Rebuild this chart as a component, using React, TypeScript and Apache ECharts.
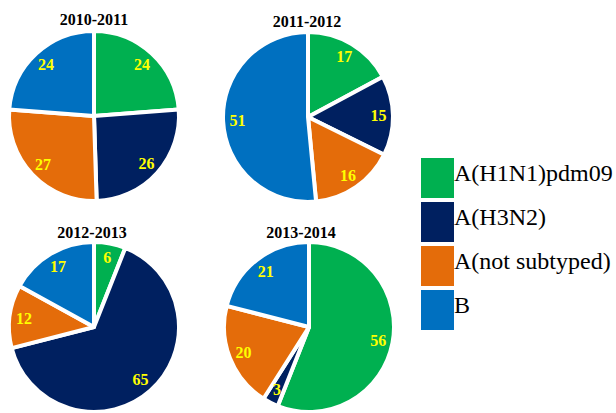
import React, { useEffect, useRef } from "react";
import * as echarts from "echarts";

const categories = ["A(H1N1)pdm09", "A(H3N2)", "A(not subtyped)", "B"];
const colors = ["#00B050", "#002060", "#E46C0A", "#0070C0"];
const seasons = ["2010-2011", "2011-2012", "2012-2013", "2013-2014"];
const values2010 = [24, 26, 27, 24];
const values2011 = [17, 15, 16, 51];
const values2012 = [6, 65, 12, 17];
const values2013 = [56, 3, 20, 21];
const allValues = [values2010, values2011, values2012, values2013];

const SERIF = "Liberation Serif";

const centers: [number, number][] = [
  [94, 116],
  [308, 117],
  [94, 327],
  [309, 327],
];
const titlePos: [number, number][] = [
  [94, 11],
  [307, 13],
  [92, 224],
  [301, 224],
];

export default function App() {
  const ref = useRef<HTMLDivElement>(null);
  useEffect(() => {
    if (!ref.current) return;
    const chart = echarts.init(ref.current, null, { renderer: "svg" });
    const series: any[] = [];
    allValues.forEach((vals, i) => {
      const data = vals.map((v, k) => ({
        name: categories[k],
        value: v,
        itemStyle: { color: colors[k] },
      }));
      series.push({
        type: "pie",
        center: centers[i],
        radius: [0, 85],
        startAngle: 90,
        clockwise: true,
        label: { show: false },
        labelLine: { show: false },
        itemStyle: { borderColor: "#ffffff", borderWidth: 4 },
        emphasis: { disabled: true },
        data,
      });
      series.push({
        type: "pie",
        center: centers[i],
        radius: [50, 85],
        startAngle: 90,
        clockwise: true,
        silent: true,
        legendHoverLink: false,
        itemStyle: { color: "transparent", borderWidth: 0 },
        label: {
          show: true,
          position: "inside",
          formatter: "{c}",
          color: "#FFFF00",
          fontFamily: SERIF,
          fontWeight: "bold",
          fontSize: 16,
        },
        labelLine: { show: false },
        emphasis: { disabled: true },
        data: vals.map((v, k) => ({ name: categories[k] + " ", value: v })),
      });
    });
    chart.setOption({
      animation: false,
      textStyle: { fontFamily: SERIF },
      title: seasons.map((s, i) => ({
        text: s,
        left: titlePos[i][0],
        top: titlePos[i][1],
        textAlign: "center",
        padding: 0,
        textStyle: {
          fontFamily: SERIF,
          fontWeight: "bold",
          fontSize: 16,
          color: "#000",
        },
      })),
      legend: {
        orient: "vertical",
        left: 419,
        top: 156,
        padding: 0,
        itemGap: 0,
        itemWidth: 35,
        itemHeight: 42,
        icon: "rect",
        selectedMode: false,
        data: categories.map((c, k) => ({ name: c, itemStyle: { color: colors[k] } })),
        formatter: "{t|{name}}",
        textStyle: {
          fontFamily: SERIF,
          fontSize: 24,
          color: "#000",
          rich: {
            t: {
              fontFamily: SERIF,
              fontSize: 24,
              color: "#000",
              padding: [0, 0, 10, -6],
            },
          },
        },
      },
      series,
    });
    return () => chart.dispose();
  }, []);
  return (
    <div
      ref={ref}
      style={{ position: "fixed", left: 0, top: 0, width: 616, height: 413, background: "#fff" }}
    />
  );
}
